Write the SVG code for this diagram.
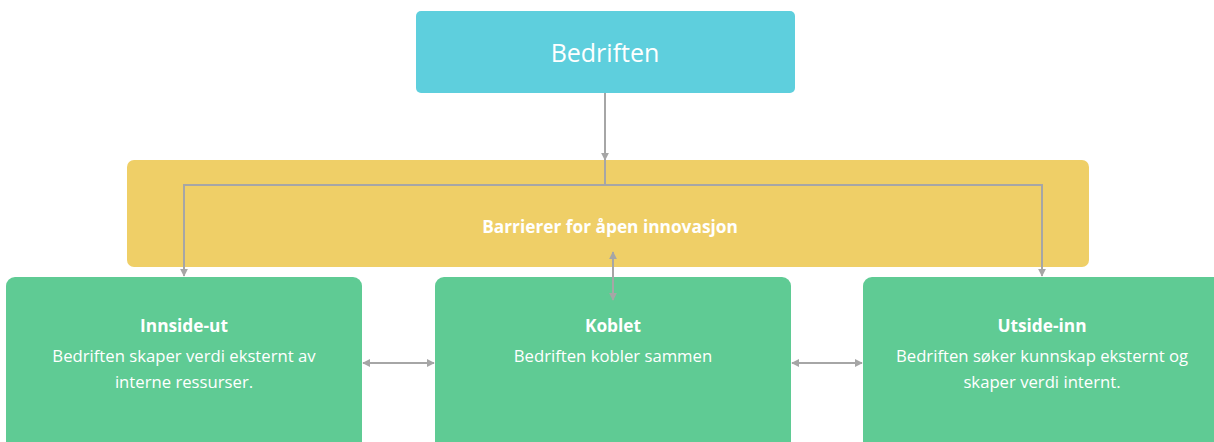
<svg xmlns="http://www.w3.org/2000/svg" width="1214" height="442" viewBox="0 0 1214 442">
  <style>
    .lbl { font-family: "Open Sans", "Noto Sans", "Liberation Sans", sans-serif; fill: #ffffff; text-anchor: middle; }
    .title { font-size: 25px; font-weight: 400; }
    .bold { font-size: 17.3px; font-weight: 700; }
    .body { font-size: 16.7px; font-weight: 400; }
    .conn { fill: none; stroke: #a6a6a6; stroke-width: 2; }
  </style>
  <defs>
    <marker id="arr" viewBox="0 0 10 10" refX="9" refY="5" markerWidth="4" markerHeight="4" orient="auto-start-reverse" markerUnits="strokeWidth">
      <path d="M0,0 L10,5 L0,10 z" fill="#a6a6a6"/>
    </marker>
  </defs>
  <rect width="1214" height="442" fill="#ffffff"/>

  <g id="node-bedriften">
    <rect x="416" y="11" width="379" height="82" rx="5" fill="#5ecfdd"/>
    <text class="lbl title" x="605" y="62">Bedriften</text>
  </g>

  <g id="node-barrierer">
    <rect x="127" y="160" width="962" height="107" rx="7" fill="#efcf67"/>
    <text class="lbl bold" x="610" y="233">Barrierer for åpen innovasjon</text>
  </g>

  <g id="node-innside-ut">
    <rect x="6" y="277" width="356" height="180" rx="9" fill="#5fcb94"/>
    <text class="lbl bold" x="184" y="332">Innside-ut</text>
    <text class="lbl body" x="184" y="362">Bedriften skaper verdi eksternt av</text>
    <text class="lbl body" x="184" y="388">interne ressurser.</text>
  </g>

  <g id="node-koblet">
    <rect x="435" y="277" width="356" height="180" rx="9" fill="#5fcb94"/>
    <text class="lbl bold" x="613" y="332">Koblet</text>
    <text class="lbl body" x="613" y="362">Bedriften kobler sammen</text>
  </g>

  <g id="node-utside-inn">
    <rect x="863" y="277" width="360" height="180" rx="9" fill="#5fcb94"/>
    <text class="lbl bold" x="1042" y="332">Utside-inn</text>
    <text class="lbl body" x="1042" y="362">Bedriften søker kunnskap eksternt og</text>
    <text class="lbl body" x="1042" y="388">skaper verdi internt.</text>
  </g>

  <g id="connectors">
    <path class="conn" d="M605,93 V160" marker-end="url(#arr)"/>
    <path class="conn" d="M605,160 V185 H184 V276" marker-end="url(#arr)"/>
    <path class="conn" d="M605,185 H1042 V276" marker-end="url(#arr)"/>
    <path class="conn" d="M613,300 V252" marker-start="url(#arr)" marker-end="url(#arr)"/>
    <path class="conn" d="M363,363 H434" marker-start="url(#arr)" marker-end="url(#arr)"/>
    <path class="conn" d="M792,363 H862" marker-start="url(#arr)" marker-end="url(#arr)"/>
  </g>
</svg>
